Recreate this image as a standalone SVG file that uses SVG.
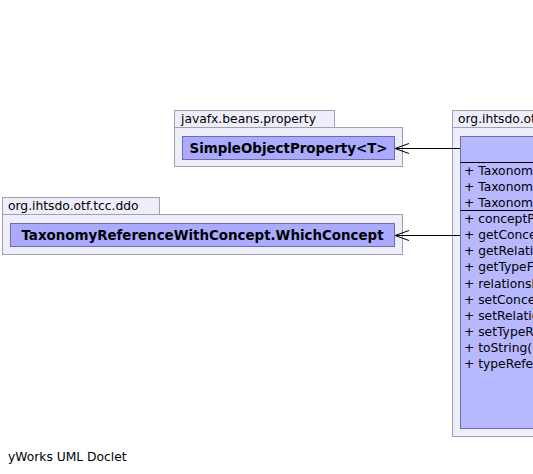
<svg xmlns="http://www.w3.org/2000/svg" width="533" height="474" viewBox="0 0 533 474">
<style>
text{font-family:"DejaVu Sans","Noto Sans",sans-serif;font-size:12.3px;fill:#000}
.b{font-weight:bold;font-size:13.4px}
.pkg{fill:#eeeefa;stroke:#a0a0b4;stroke-width:1}
.cls{fill:#aaaaff;stroke:#6e6ea0;stroke-width:1}
.big{fill:#b8b8ff;stroke:#6e6ea0;stroke-width:1}
.sep{stroke:#000;stroke-width:1}
.edge{stroke:#000;stroke-width:1;fill:none}
</style>
<defs>
<marker id="open" markerWidth="16" markerHeight="12" refX="15" refY="6" orient="auto" markerUnits="userSpaceOnUse">
<path d="M1,1 L15,6 L1,11" fill="none" stroke="#000" stroke-width="1"/>
</marker>
</defs>
<rect width="533" height="474" fill="#fff"/>
<g id="pkg-javafx">
<rect class="pkg" x="174.5" y="110.5" width="160" height="17"/>
<rect class="pkg" x="174.5" y="127.5" width="228" height="39"/>
<text x="181" y="123">javafx.beans.property</text>
<g id="SimpleObjectProperty">
<rect class="cls" x="182.5" y="136.5" width="212" height="23"/>
<text class="b" x="288.5" y="153" text-anchor="middle">SimpleObjectProperty&lt;T&gt;</text>
</g>
</g>
<g id="pkg-ddo">
<rect class="pkg" x="2.5" y="197.5" width="157" height="17"/>
<rect class="pkg" x="2.5" y="214.5" width="400" height="40"/>
<text x="8" y="210">org.ihtsdo.otf.tcc.ddo</text>
<g id="WhichConcept">
<rect class="cls" x="10.5" y="223.5" width="384" height="23"/>
<text class="b" x="202.5" y="240" text-anchor="middle">TaxonomyReferenceWithConcept.WhichConcept</text>
</g>
</g>
<g id="pkg-main">
<rect class="pkg" x="452.5" y="110.5" width="100" height="17"/>
<rect class="pkg" x="452.5" y="127.5" width="100" height="309"/>
<text x="458" y="123">org.ihtsdo.otf</text>
<g id="TaxonomyReferenceWithConcept">
<rect class="big" x="460.5" y="136.5" width="90" height="292"/>
<line class="sep" x1="460.5" y1="162.5" x2="533" y2="162.5"/>
<line class="sep" x1="460.5" y1="210.5" x2="533" y2="210.5"/>
<text x="464" y="175">+ Taxonom</text>
<text x="464" y="191">+ Taxonom</text>
<text x="464" y="207">+ Taxonom</text>
<text x="464" y="223">+ conceptP</text>
<text x="464" y="239">+ getConce</text>
<text x="464" y="255">+ getRelatio</text>
<text x="464" y="271">+ getTypeF</text>
<text x="464" y="288">+ relationsh</text>
<text x="464" y="304">+ setConce</text>
<text x="464" y="320">+ setRelatio</text>
<text x="464" y="336">+ setTypeR</text>
<text x="464" y="352">+ toString()</text>
<text x="464" y="368">+ typeRefe</text>
</g>
</g>
<g id="connectors">
<line class="edge" x1="460" y1="148.5" x2="395" y2="148.5" marker-end="url(#open)"/>
<line class="edge" x1="460" y1="235.5" x2="395" y2="235.5" marker-end="url(#open)"/>
</g>
<text x="8" y="461">yWorks UML Doclet</text>
</svg>
